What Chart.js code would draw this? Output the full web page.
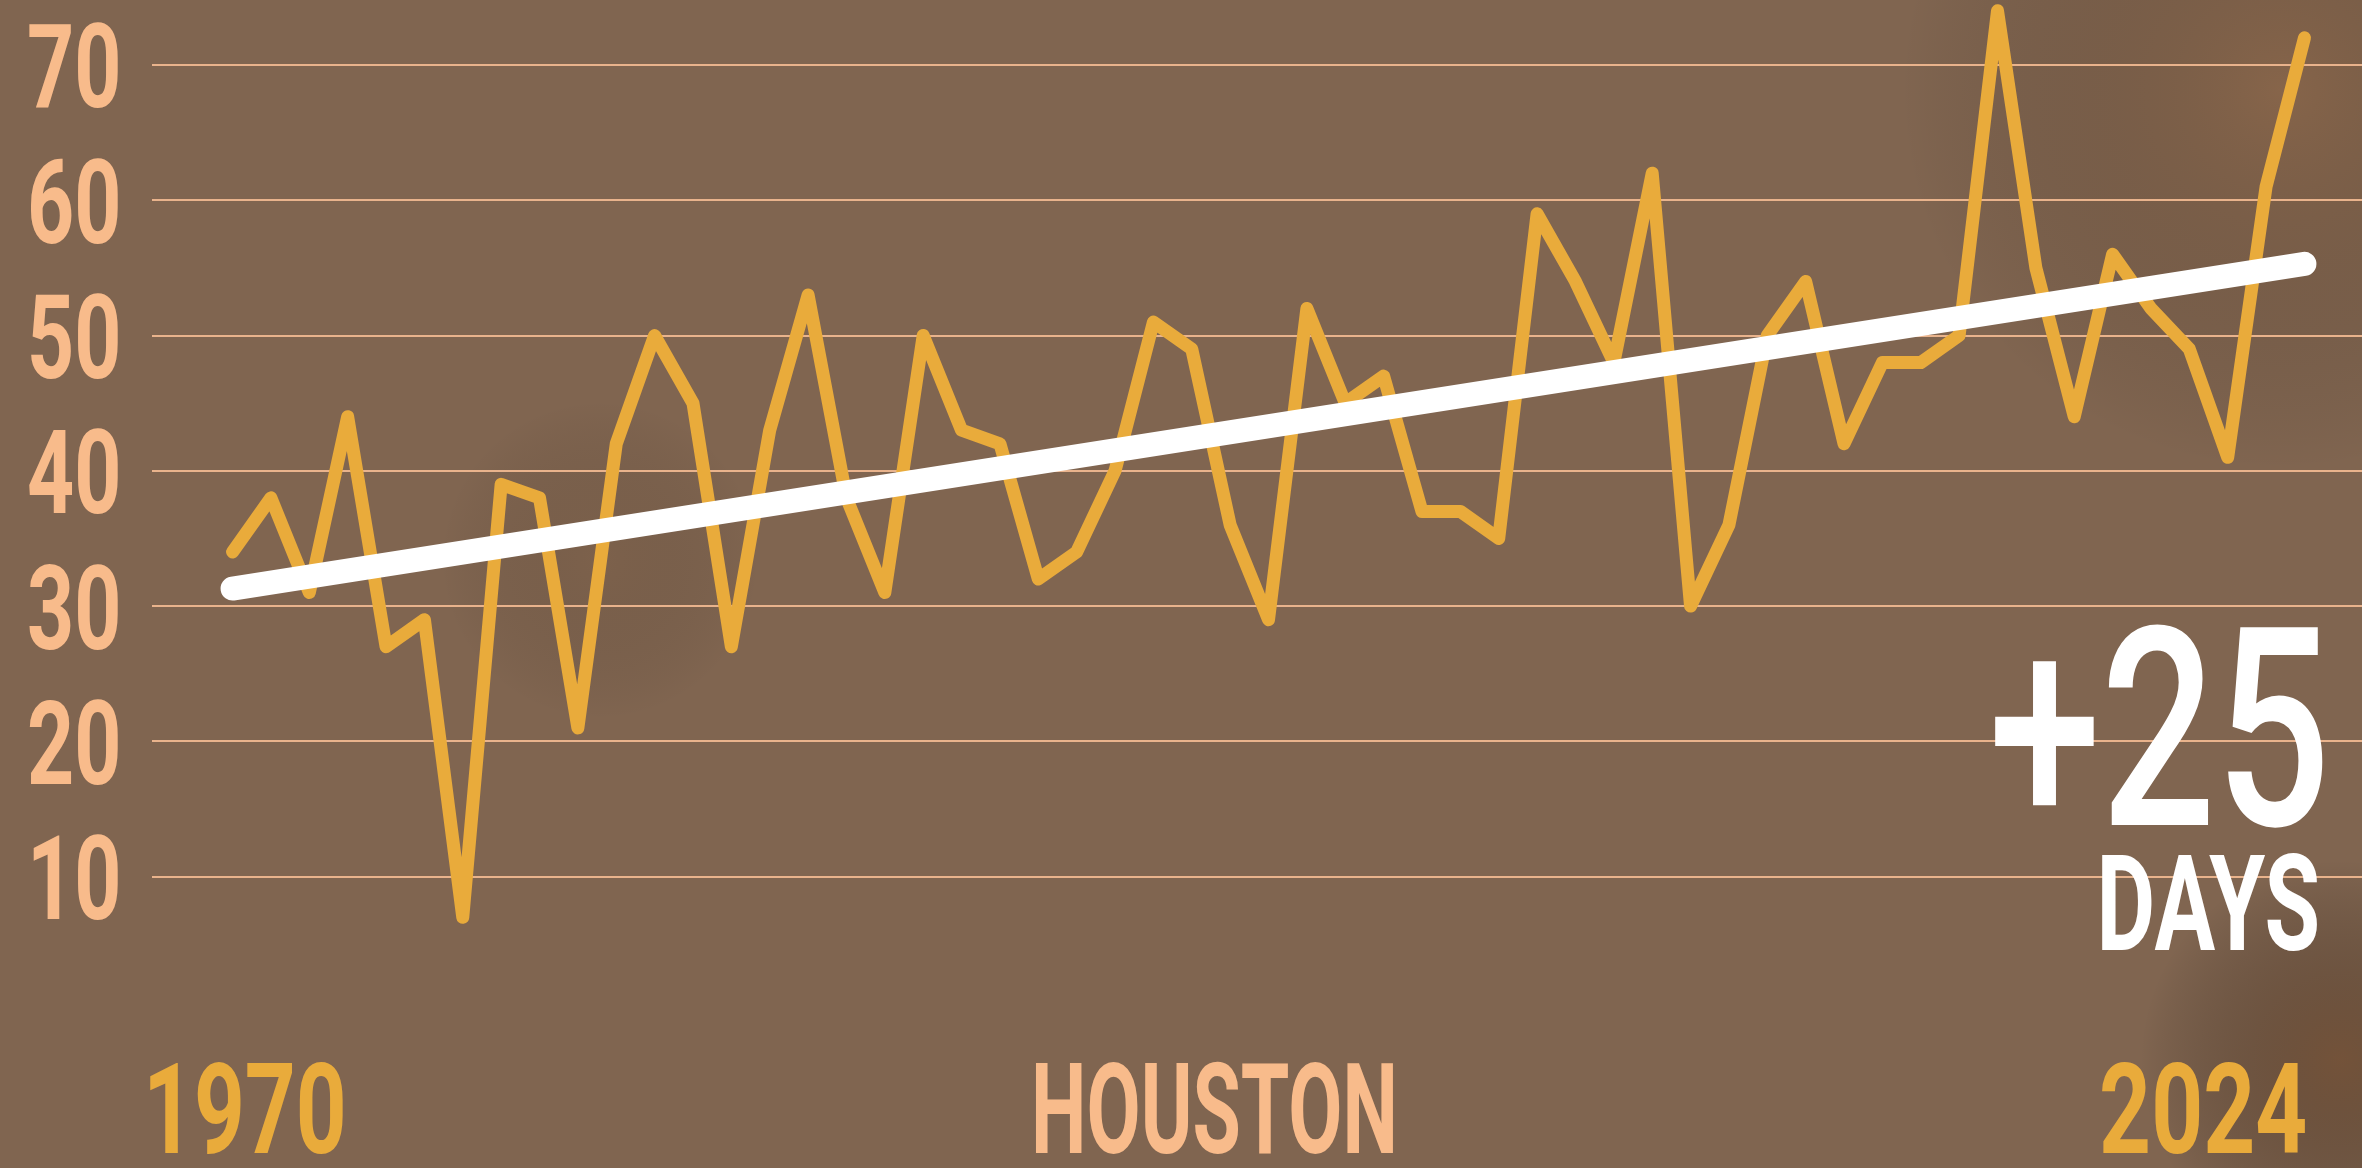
<!DOCTYPE html>
<html>
<head>
<meta charset="utf-8">
<script src="https://cdn.jsdelivr.net/npm/chart.js@4"></script>
<style>
  html, body { margin: 0; padding: 0; background: #806550; }
  .wrap { position: relative; width: 2362px; height: 1168px; }
</style>
</head>
<body>
<div class="wrap"><canvas id="houston"></canvas></div>
<script>
"use strict";

//------------------ data ------------------
const years = [
  1970, 1971, 1972, 1973, 1974, 1975, 1976, 1977, 1978, 1979,
  1980, 1981, 1982, 1983, 1984, 1985, 1986, 1987, 1988, 1989,
  1990, 1991, 1992, 1993, 1994, 1995, 1996, 1997, 1998, 1999,
  2000, 2001, 2002, 2003, 2004, 2005, 2006, 2007, 2008, 2009,
  2010, 2011, 2012, 2013, 2014, 2015, 2016, 2017, 2018, 2019,
  2020, 2021, 2022, 2023, 2024
];
const hotDays = [
  34, 38, 31, 44, 27, 29, 7, 39, 38, 21,
  42, 50, 45, 27, 43, 53, 38, 31, 50, 43,
  42, 32, 34, 40, 51, 49, 36, 29, 52, 45,
  47, 37, 37, 35, 59, 54, 48, 62, 30, 36,
  50, 54, 42, 48, 48, 50, 74, 55, 44, 56,
  52, 49, 41, 61, 72
];
// trend line end points
const trendYears = [1970, 2024];
const trendDays = [31.3, 55.3];
const yTicks = [10, 20, 30, 40, 50, 60, 70];

const cityName = "HOUSTON";
const changeText = "+25";
const unitText = "DAYS";

//------------------ look ------------------
const FONT = 'Roboto, "Liberation Sans", sans-serif';
const ORANGE = "#e9ab3b";
const PEACH = "#f8bb8b";

// draw text so its ink fills a box (squeezed to a condensed look)
function fitText(ctx, text, weight, x0, x1, top, base, color) {
  ctx.font = weight + " 100px " + FONT;
  let m = ctx.measureText(text);
  let size = 100 * (base - top) / m.actualBoundingBoxAscent;
  ctx.font = weight + " " + size + "px " + FONT;
  m = ctx.measureText(text);
  let ink = m.actualBoundingBoxLeft + m.actualBoundingBoxRight;
  let sx = (x1 - x0) / ink;
  ctx.save();
  ctx.fillStyle = color;
  ctx.textAlign = "left";
  ctx.textBaseline = "alphabetic";
  ctx.translate(x0, base);
  ctx.scale(sx, 1);
  ctx.fillText(text, m.actualBoundingBoxLeft, 0);
  ctx.restore();
}

const backdrop = {
  id: "backdrop",
  beforeDraw(chart) {
    const ctx = chart.ctx;
    const w = chart.width, h = chart.height;
    ctx.save();
    ctx.fillStyle = "#806550";
    ctx.fillRect(0, 0, w, h);
    let blobs = [
      [2280, 90, 380, "rgba(150,100,60,0.30)"],
      [2340, 1060, 200, "rgba(100,60,30,0.45)"],
      [600, 560, 160, "rgba(110,80,55,0.18)"]
    ];
    for (let b of blobs) {
      let g = ctx.createRadialGradient(b[0], b[1], 0, b[0], b[1], b[2]);
      g.addColorStop(0, b[3]);
      g.addColorStop(1, "rgba(0,0,0,0)");
      ctx.fillStyle = g;
      ctx.fillRect(0, 0, w, h);
    }
    ctx.restore();
  }
};

const labels = {
  id: "labels",
  afterDraw(chart) {
    const ctx = chart.ctx;
    const y = chart.scales.y;

    // y tick labels, squeezed, right aligned
    ctx.font = "bold 100px " + FONT;
    let m = ctx.measureText("70");
    let size = 100 * 85 / m.actualBoundingBoxAscent;
    ctx.font = "bold " + size + "px " + FONT;
    m = ctx.measureText("70");
    let sx = 89 / (m.actualBoundingBoxLeft + m.actualBoundingBoxRight);
    for (let t of y.ticks) {
      let py = y.getPixelForValue(t.value);
      let mm = ctx.measureText(String(t.value));
      ctx.save();
      ctx.fillStyle = PEACH;
      ctx.textAlign = "left";
      ctx.textBaseline = "alphabetic";
      ctx.translate(118, py + 42.5);
      ctx.scale(sx, 1);
      ctx.fillText(String(t.value), -mm.actualBoundingBoxRight, 0);
      ctx.restore();
    }

    fitText(ctx, String(years[0]), "bold", 150, 343, 1061, 1153, ORANGE);
    fitText(ctx, cityName, "bold", 1036, 1393, 1061, 1153, PEACH);
    fitText(ctx, String(years[years.length - 1]), "bold", 2102, 2305, 1061, 1153, ORANGE);
    fitText(ctx, changeText, "500", 1995, 2323, 622, 825, "#ffffff");
    fitText(ctx, unitText, "bold", 2102, 2317, 852, 950, "#ffffff");
  }
};

function makeChart() {
  new Chart(document.getElementById("houston"), {
    type: "line",
    data: {
      datasets: [{
        label: "trend",
        data: trendYears.map((yr, i) => ({ x: yr, y: trendDays[i] })),
        borderColor: "#ffffff",
        borderWidth: 24,
        borderCapStyle: "round",
        pointRadius: 0,
        order: 0
      }, {
        label: "days",
        data: years.map((yr, i) => ({ x: yr, y: hotDays[i] })),
        borderColor: ORANGE,
        borderWidth: 13,
        borderJoinStyle: "round",
        borderCapStyle: "round",
        pointRadius: 0,
        tension: 0,
        clip: false,
        order: 1
      }]
    },
    options: {
      responsive: true,
      maintainAspectRatio: false,
      devicePixelRatio: 1,
      animation: false,
      layout: { padding: { left: 0, right: 0, top: 0, bottom: 156 } },
      plugins: { legend: { display: false }, tooltip: { enabled: false } },
      scales: {
        x: { type: "linear", min: 1967.9, max: 2025.5, display: false },
        y: {
          min: 0,
          max: 74.8,
          afterFit(scale) { scale.width = 152; },
          afterBuildTicks(scale) { scale.ticks = yTicks.map(v => ({ value: v })); },
          ticks: { display: false },
          border: { display: false },
          grid: { color: "#e9b38c", lineWidth: 2, drawTicks: false }
        }
      }
    },
    plugins: [backdrop, labels]
  });
}

Promise.all([
  document.fonts.load("bold 100px Roboto"),
  document.fonts.load("500 100px Roboto")
]).then(makeChart, makeChart);
</script>
</body>
</html>
